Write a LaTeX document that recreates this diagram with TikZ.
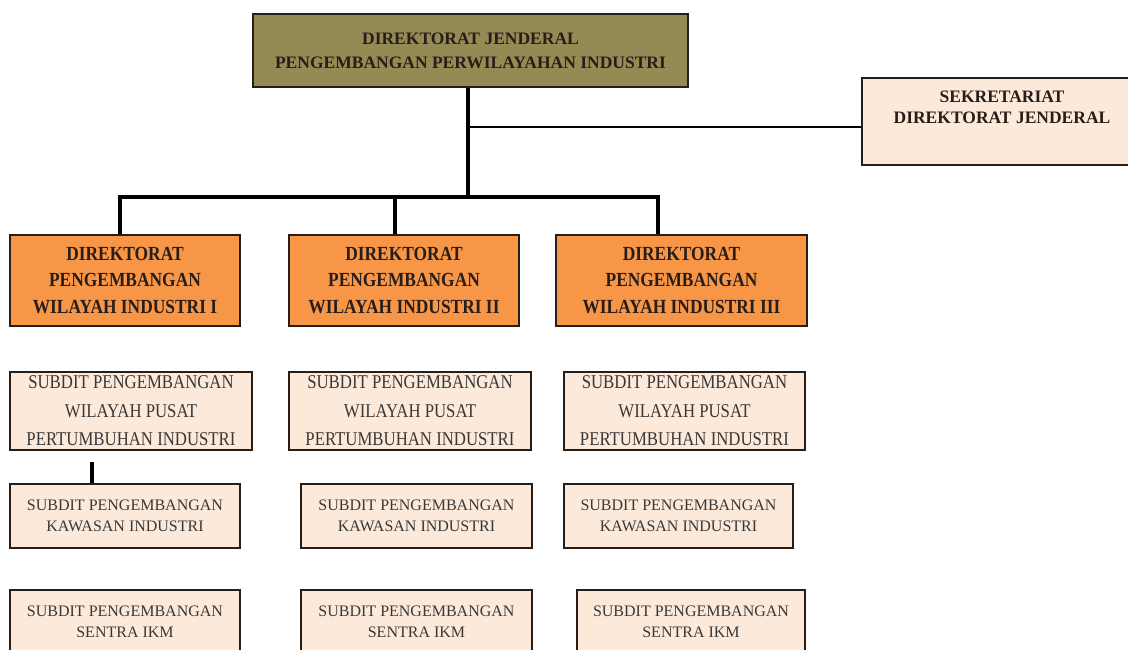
\documentclass[tikz,border=0pt]{standalone}
\usepackage{fontspec}
\setmainfont{Liberation Serif}
\newfontfamily\tallserif[FakeStretch=0.87]{Liberation Serif}
\newfontfamily\subserif[FakeStretch=0.86]{Liberation Serif}
\definecolor{olivetop}{RGB}{148,138,84}
\definecolor{orangedir}{RGB}{247,150,70}
\definecolor{peachsub}{RGB}{253,233,217}
\definecolor{inkdark}{RGB}{40,30,25}
\begin{document}
\begin{tikzpicture}[x=1pt,y=-1pt,
  box/.style={draw=inkdark,line width=1.6pt,inner sep=0pt,align=center,text=inkdark},
  topbox/.style={box,fill=olivetop,font=\fontsize{17.5}{24}\selectfont\bfseries},
  sekbox/.style={box,fill=peachsub,font=\fontsize{17.5}{20.5}\selectfont\bfseries},
  dirbox/.style={box,fill=orangedir,font=\tallserif\fontsize{20}{26.5}\selectfont\bfseries},
  subbox/.style={box,fill=peachsub,text=black!78,font=\subserif\fontsize{19.5}{28.5}\selectfont},
  smallsub/.style={box,fill=peachsub,text=black!78,font=\fontsize{16}{21.5}\selectfont},
  bus/.style={line width=3.6pt,black},
  thinlink/.style={line width=2pt,black}]
\useasboundingbox (0,0) rectangle (1128,650);

% top level
\node[topbox,minimum width=435pt,minimum height=73pt] (dirjen) at (470.5,50.5) {DIREKTORAT JENDERAL\\PENGEMBANGAN PERWILAYAHAN INDUSTRI};
\node[sekbox,minimum width=280pt,minimum height=87pt] (sekretariat) at (1002,121.5) {SEKRETARIAT\\DIREKTORAT JENDERAL\\[8pt]\mbox{}};

% direktorat
\node[dirbox,minimum width=230pt,minimum height=91pt] (dir1) at (125,280.5) {DIREKTORAT\\PENGEMBANGAN\\WILAYAH INDUSTRI I};
\node[dirbox,minimum width=230pt,minimum height=91pt] (dir2) at (404,280.5) {DIREKTORAT\\PENGEMBANGAN\\WILAYAH INDUSTRI II};
\node[dirbox,minimum width=251pt,minimum height=91pt] (dir3) at (681.5,280.5) {DIREKTORAT\\PENGEMBANGAN\\WILAYAH INDUSTRI III};

% subdit pusat pertumbuhan
\node[subbox,minimum width=242pt,minimum height=78pt] (pusat1) at (131,411) {SUBDIT PENGEMBANGAN\\WILAYAH PUSAT\\PERTUMBUHAN INDUSTRI};
\node[subbox,minimum width=242pt,minimum height=78pt] (pusat2) at (410,411) {SUBDIT PENGEMBANGAN\\WILAYAH PUSAT\\PERTUMBUHAN INDUSTRI};
\node[subbox,minimum width=241pt,minimum height=78pt] (pusat3) at (684.5,411) {SUBDIT PENGEMBANGAN\\WILAYAH PUSAT\\PERTUMBUHAN INDUSTRI};

% subdit kawasan
\node[smallsub,minimum width=230pt,minimum height=64pt] (kawasan1) at (125,516) {SUBDIT PENGEMBANGAN\\KAWASAN INDUSTRI};
\node[smallsub,minimum width=231pt,minimum height=64pt] (kawasan2) at (416.5,516) {SUBDIT PENGEMBANGAN\\KAWASAN INDUSTRI};
\node[smallsub,minimum width=229pt,minimum height=64pt] (kawasan3) at (678.5,516) {SUBDIT PENGEMBANGAN\\KAWASAN INDUSTRI};

% subdit sentra
\node[smallsub,minimum width=230pt,minimum height=64pt] (sentra1) at (125,622) {SUBDIT PENGEMBANGAN\\SENTRA IKM};
\node[smallsub,minimum width=231pt,minimum height=64pt] (sentra2) at (416.5,622) {SUBDIT PENGEMBANGAN\\SENTRA IKM};
\node[smallsub,minimum width=228pt,minimum height=64pt] (sentra3) at (691,622) {SUBDIT PENGEMBANGAN\\SENTRA IKM};

% lines
\coordinate (J) at (468,197);
\coordinate (S) at (468,127);
\coordinate (B1) at (120,197);
\coordinate (B2) at (395,197);
\coordinate (B3) at (658,197);
\coordinate (stub) at (92,462);
\draw[bus] (dirjen.south -| J) -- (J);
\draw[bus] (B1 |- dir1.north) -- (B1) -- (B3) -- (B3 |- dir3.north);
\draw[bus] (B2) -- (B2 |- dir2.north);
\draw[thinlink] (S) -- (S -| sekretariat.west);
\draw[line width=3.4pt] (stub) -- (stub |- kawasan1.north);
\end{tikzpicture}
\end{document}
